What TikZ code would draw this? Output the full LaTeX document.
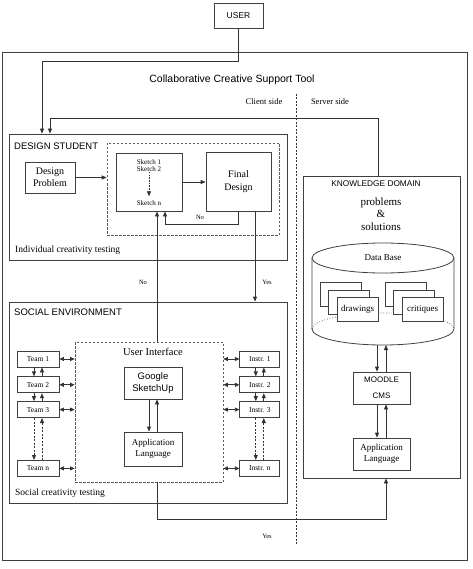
\documentclass[tikz,border=0pt]{standalone}
\usepackage{fontspec}
\setmainfont{Liberation Serif}
\setsansfont{Liberation Sans}
\usetikzlibrary{arrows.meta}
\usetikzlibrary{positioning,calc}
\tikzset{
   box/.style={draw=black!75, line width=0.8pt, inner sep=1pt, align=center},
   dbox/.style={draw=black!65, line width=0.7pt, dash pattern=on 2.5pt off 1.5pt},
   arr/.style={draw=black!80, line width=0.8pt, -{Triangle[length=5pt,width=4pt]}},
   darr/.style={draw=black!80, line width=0.8pt,
      {Triangle[length=4.5pt,width=4pt]}-{Triangle[length=4.5pt,width=4pt]}},
   lbl/.style={font=\fontsize{6.5}{7}\selectfont, inner sep=0pt},
   team/.style={box, minimum width=42, minimum height=16,
      font=\fontsize{7.5}{8}\selectfont},
   instr/.style={box, minimum width=40, minimum height=16,
      font=\fontsize{7.5}{8}\selectfont},
   doc/.style={draw=black!75, line width=0.7pt, fill=white}
}

\begin{document}
\begin{tikzpicture}[x=1pt, y=-1pt]
      \useasboundingbox (0,0) rectangle (472,569);

      % outer frame and user
      \node[box, minimum width=465, minimum height=508] (cst) at (234.5,306) {};
      \node[box, minimum width=49, minimum height=25, font=\sffamily\fontsize{8.5}{9}\selectfont]
         (user) at (238.5,15.5) {USER};
      \node[font=\sffamily\fontsize{10.5}{12}\selectfont] (title) at (232,80)
         {Collaborative Creative Support Tool};
      \node[font=\fontsize{8.5}{9}\selectfont] (cs) at (264,102) {Client side};
      \node[font=\fontsize{8.5}{9}\selectfont] (ss) at (330,102) {Server side};
      \draw[black!80, line width=0.6pt, dash pattern=on 2pt off 1.5pt] (296,94) -- (296,544);

      % design student
      \node[box, minimum width=278, minimum height=126] (ds) at (148,197) {};
      \node[anchor=west, inner sep=0pt, font=\sffamily\fontsize{9.5}{10}\selectfont]
         (dsh) at (14,146) {DESIGN STUDENT};
      \node[dbox, minimum width=172, minimum height=92] (ia) at (193,189) {};
      \node[box, minimum width=50, minimum height=31, font=\fontsize{10}{12}\selectfont]
         (dp) at (50,177.5) {Design\\Problem};
      \node[box, minimum width=66, minimum height=58] (sk) at (149,182) {};
      \node[lbl, font=\fontsize{7}{8}\selectfont] (s1) at (149,162) {Sketch 1};
      \node[lbl, font=\fontsize{7}{8}\selectfont, below=2pt of s1] (s2) {Sketch 2};
      \node[lbl, font=\fontsize{7}{8}\selectfont] (sn) at (149,203) {Sketch n};
      \node[box, minimum width=65, minimum height=59, font=\fontsize{10}{13}\selectfont]
         (fd) at (238.5,181.5) {Final\\Design};
      \node[anchor=west, inner sep=0pt, font=\fontsize{9.5}{10}\selectfont]
         (ict) at (15,250) {Individual creativity testing};

      % social environment
      \node[box, minimum width=278, minimum height=201] (se) at (148,402.5) {};
      \node[anchor=west, inner sep=0pt, font=\sffamily\fontsize{9.5}{10}\selectfont]
         (seh) at (14,312) {SOCIAL ENVIRONMENT};
      \node[dbox, minimum width=148, minimum height=140] (ui) at (149,412) {};
      \node[font=\fontsize{10.5}{12}\selectfont] (uih) at (153,352) {User Interface};
      \node[box, minimum width=58, minimum height=32, font=\sffamily\fontsize{9.5}{11.5}\selectfont]
         (gs) at (153,383) {Google\\SketchUp};
      \node[box, minimum width=58, minimum height=34, font=\fontsize{9}{10.5}\selectfont]
         (al) at (153,449) {Application\\Language};
      \node[team] (t1) at (38,359) {Team 1};
      \node[team, below=9pt of t1] (t2) {Team 2};
      \node[team, below=8pt of t2] (t3) {Team 3};
      \node[team, below=42pt of t3] (tn) {Team n};
      \node[instr, right=180pt of t1] (i1) {Instr. 1};
      \node[instr, right=180pt of t2] (i2) {Instr. 2};
      \node[instr, right=180pt of t3] (i3) {Instr. 3};
      \node[instr, right=180pt of tn] (in) {Instr. n};
      \node[anchor=west, inner sep=0pt, font=\fontsize{9.5}{10}\selectfont]
         (sct) at (15,493) {Social creativity testing};

      % knowledge domain
      \node[box, minimum width=157, minimum height=302] (kd) at (381.5,327) {};
      \node[font=\sffamily\fontsize{8.3}{9}\selectfont] (kdh) at (376,184) {KNOWLEDGE DOMAIN};
      \node[font=\fontsize{11}{12.5}\selectfont, align=center] (ps) at (381,214)
         {problems\\\&\\solutions};
      \draw[black!75, line width=0.7pt, dotted] (312,329)
         arc[start angle=180, end angle=360, x radius=71, y radius=16];
      \draw[black!75, line width=0.8pt] (312,258) -- (312,329)
         arc[start angle=180, end angle=0, x radius=71, y radius=16] -- (454,258);
      \draw[black!75, line width=0.8pt] (383,258) ellipse[x radius=71, y radius=15];
      \node[font=\fontsize{9}{10}\selectfont] (dbh) at (383,258) {Data Base};
      \coordinate (db) at (381.5,345);
      \foreach \dx/\dy in {0/0, 8/8, 17/15} {
         \draw[doc] (320+\dx,282+\dy) rectangle ++(41,24);
         \draw[doc] (385+\dx,282+\dy) rectangle ++(41,24);
      }
      \node[font=\fontsize{9}{10}\selectfont] (dw) at (357.5,309) {drawings};
      \node[font=\fontsize{9}{10}\selectfont] (cr) at (422.5,309) {critiques};
      \node[box, minimum width=57, minimum height=32, font=\sffamily\fontsize{8}{16}\selectfont]
         (mc) at (381.5,388) {MOODLE\\CMS};
      \node[box, minimum width=57, minimum height=32, font=\fontsize{9}{10.5}\selectfont]
         (al2) at (381.5,454) {Application\\Language};

      % connectors
      \coordinate (c1) at (42,61);
      \coordinate (c2) at (378,118);
      \coordinate (c3) at (50,118);
      \coordinate (c5) at (157,280);
      \coordinate (c6) at (157,519);
      \coordinate (c7) at (386,519);
      \coordinate (c8) at (255,280);
      \draw[arr] (user.south) |- (c1) -- (c1 |- ds.north);
      \draw[arr] (c2 |- kd.north) -- (c2) -- (c3) -- (c3 |- ds.north);
      \draw[arr] (dp.east) -- (dp.east -| ia.west);
      \draw[arr] (sk.east) -- (sk.east -| fd.west);
      \draw[arr, dash pattern=on 1.5pt off 1.2pt, shorten >=4pt] (s2.south) -- (sn.north);
      \draw[arr] (fd.south) -- ++(0,13) -| ($(sk.south)+(16,0)$);
      \node[lbl] (no1) at (200,217) {No};
      \draw[arr] (c5 |- ui.north) -- (c5 |- sk.south);
      \node[lbl] (no2) at (143,282) {No};
      \draw[arr] (c8 |- fd.south) -- (c8 |- se.north);
      \node[lbl] (yes1) at (267,282) {Yes};
      \draw[arr] (c5 |- ui.south) -- (c6) -- (c7) -- (c7 |- kd.south);
      \node[lbl] (yes2) at (267,536) {Yes};

      \draw[arr] ([xshift=-4]gs.south) -- ([xshift=-4]al.north);
      \draw[arr] ([xshift=4]al.north) -- ([xshift=4]gs.south);
      \foreach \a/\b in {t1/t2, t2/t3, i1/i2, i2/i3} {
         \draw[arr] ([xshift=-4]\a.south) -- ([xshift=-4]\b.north);
         \draw[arr] ([xshift=4]\b.north) -- ([xshift=4]\a.south);
      }
      \foreach \a/\b in {t3/tn, i3/in} {
         \draw[arr, dash pattern=on 2pt off 1.5pt] ([xshift=-4]\a.south) -- ([xshift=-4]\b.north);
         \draw[arr, dash pattern=on 2pt off 1.5pt] ([xshift=4]\b.north) -- ([xshift=4]\a.south);
      }
      \foreach \t in {t1, t2, t3, tn}
         \draw[darr] (\t.east) -- (\t.east -| ui.west);
      \foreach \i in {i1, i2, i3, in}
         \draw[darr] (\i.west -| ui.east) -- (\i.west);

      \draw[arr] ([xshift=-4.5]db) -- ([xshift=-4.5]mc.north);
      \draw[arr] ([xshift=4.5]mc.north) -- ([xshift=4.5]db);
      \draw[arr] ([xshift=-4.5]mc.south) -- ([xshift=-4.5]al2.north);
      \draw[arr] ([xshift=4.5]al2.north) -- ([xshift=4.5]mc.south);
\end{tikzpicture}
\end{document}
